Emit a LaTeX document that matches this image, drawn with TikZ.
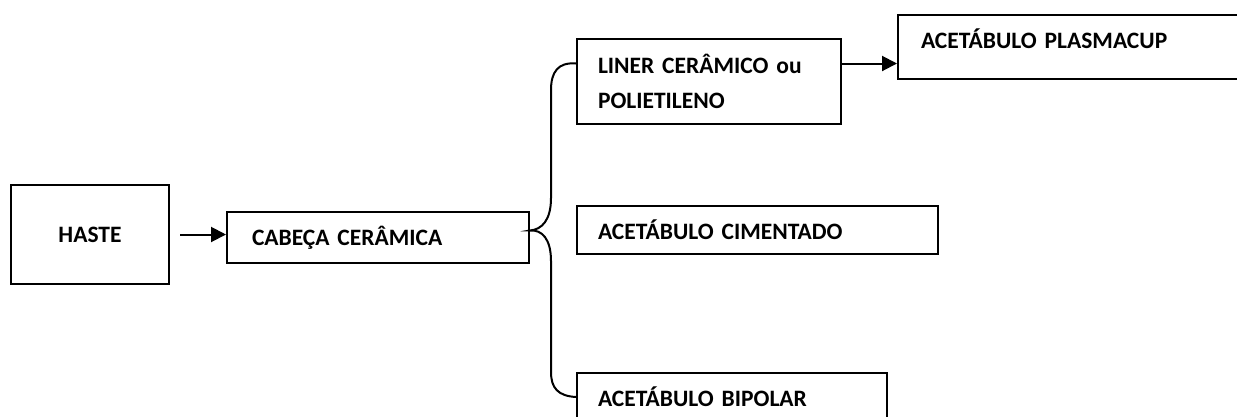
\documentclass[tikz,border=0pt]{standalone}
\usepackage{fontspec}
\setmainfont{Carlito}
\usetikzlibrary{arrows.meta}
\usetikzlibrary{calc}

\begin{document}
\begin{tikzpicture}[x=1pt, y=-1pt,
    caixa/.style={draw, line width=2pt, inner sep=0pt, inner xsep=21pt, align=left,
      font=\fontsize{23.5}{35}\selectfont\bfseries, anchor=north west},
    seta/.style={line width=2pt, -{Triangle[length=15pt, width=15pt]}}]
      \useasboundingbox (0,0) rectangle (1237,416);

      \node[caixa, align=center, inner xsep=0pt, text width=158pt, minimum height=99pt] (haste) at (10,184) {HASTE};
      \node[caixa, inner xsep=25pt, text width=252pt, minimum height=51pt] (cabeca) at (226,211) {CABEÇA CERÂMICA};
      \node[caixa, text width=222pt, minimum height=85pt] (liner) at (576,38) {LINER CERÂMICO ou\\POLIETILENO};
      \node[caixa, inner xsep=23pt, text width=314pt, minimum height=64pt, text depth=16pt] (plasmacup) at (897,14) {ACETÁBULO PLASMACUP};
      \node[caixa, text width=319pt, minimum height=48pt] (cimentado) at (576,205) {ACETÁBULO CIMENTADO};
      \node[caixa, text width=268pt, minimum height=48pt] (bipolar) at (576,372) {ACETÁBULO BIPOLAR};

      \coordinate (linerup) at ([yshift=18pt]liner.west);
      \coordinate (ponta) at ([yshift=7pt]cabeca.east);

      \draw[seta, shorten <=10pt] (haste.east) -- (haste.east -| cabeca.west);
      \draw[seta] (linerup -| liner.east) -- (linerup -| plasmacup.west);
      \draw[line width=2pt] (linerup) .. controls (558,62) and (551,72) .. (551,90) -- (551,198)
        .. controls (551,220) and (542,229.5) .. (ponta)
        .. controls (542,229.5) and (551,239) .. (551,261) -- (551,372)
        .. controls (551,388) and (558,396) .. (bipolar.west);
    \end{tikzpicture}
\end{document}
